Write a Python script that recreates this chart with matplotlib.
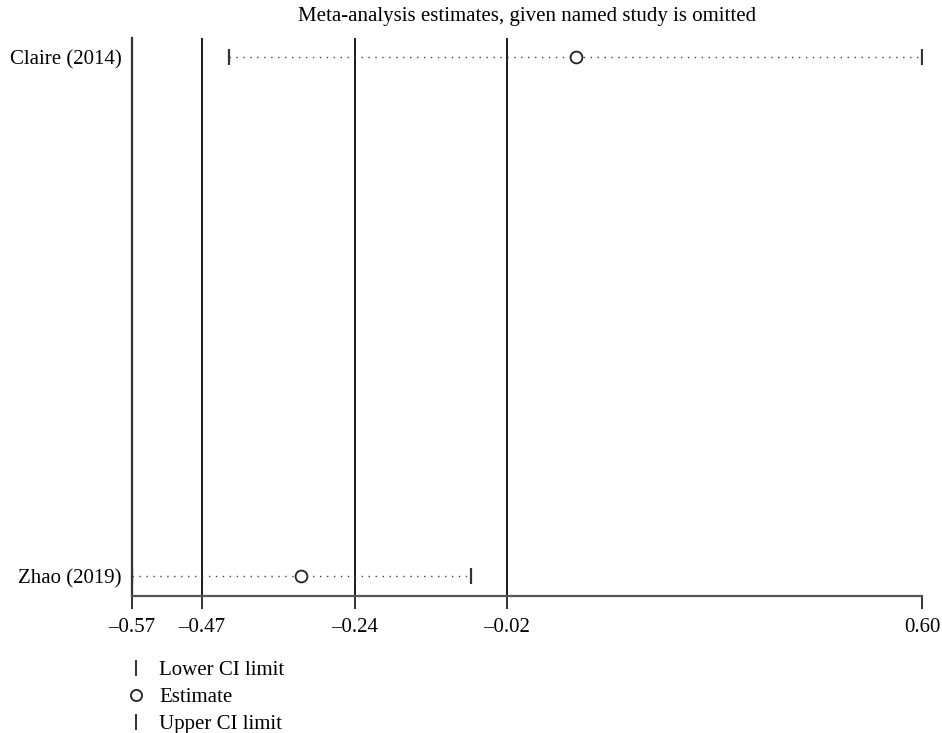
import matplotlib.pyplot as plt
from matplotlib.lines import Line2D

plt.rcParams['font.family'] = ['Liberation Serif', 'DejaVu Serif']

# study omitted -> pooled estimate and CI
studies = ['Claire (2014)', 'Zhao (2019)']
estimate = [0.087, -0.319]
lower_ci = [-0.426, -0.570]
upper_ci = [0.600, -0.068]

# overall estimate and CI (reference lines)
overall = [-0.466, -0.2395, -0.015]

tick_vals = [-0.570, -0.466, -0.2395, -0.015, 0.600]
tick_labels = ['\u20130.57', '\u20130.47', '\u20130.24', '\u20130.02', '0.60']

fig = plt.figure(figsize=(9.42, 7.33), dpi=100)
ax = fig.add_axes([0.1398, 0.1869, 0.8393, 0.7613])

ypos = list(range(1, len(studies) + 1))

# reference lines
for v in overall:
    ax.axvline(v, color='#1a1a1a', lw=1.4, zorder=1)

# dotted CI lines
for y, lo, hi in zip(ypos, lower_ci, upper_ci):
    ax.plot([lo, hi], [y, y], color='#444444', lw=1.0, linestyle=(0, (1, 4)), zorder=2)

ax.plot(lower_ci, ypos, linestyle='none', marker='|', markersize=12,
        markeredgewidth=1.6, color='#333333', zorder=3)
ax.plot(upper_ci, ypos, linestyle='none', marker='|', markersize=12,
        markeredgewidth=1.6, color='#333333', zorder=3)
ax.plot(estimate, ypos, linestyle='none', marker='o', markersize=8.5,
        markerfacecolor='white', markeredgecolor='#222222', markeredgewidth=1.3, zorder=4)

ax.set_xlim(-0.570, 0.600)
ax.set_ylim(2.0385, 0.9634)
ax.set_xticks(tick_vals)
ax.set_xticklabels(tick_labels, fontsize=15)
ax.set_yticks(ypos)
ax.set_yticklabels(studies, fontsize=15)
ax.tick_params(axis='y', length=0, pad=7)
ax.tick_params(axis='x', length=9, width=1.4, color='#333333', pad=7)

for s in ['top', 'right']:
    ax.spines[s].set_visible(False)
ax.spines['left'].set_color('#333333')
ax.spines['left'].set_linewidth(1.6)
ax.spines['bottom'].set_color('#555555')
ax.spines['bottom'].set_linewidth(1.6)

ax.set_title('Meta-analysis estimates, given named study is omitted', fontsize=15, pad=12)

handles = [
    Line2D([], [], linestyle='none', marker='|', markersize=11, markeredgewidth=1.4, color='#333333'),
    Line2D([], [], linestyle='none', marker='o', markersize=8, markerfacecolor='white',
           markeredgecolor='#222222', markeredgewidth=1.3),
    Line2D([], [], linestyle='none', marker='|', markersize=11, markeredgewidth=1.4, color='#333333'),
]
fig.legend(handles, ['Lower CI limit', 'Estimate', 'Upper CI limit'],
           loc='upper left', bbox_to_anchor=(0.1335, 0.0986), frameon=False,
           fontsize=15, labelspacing=0.35, handlelength=1.0, handletextpad=0.6,
           borderpad=0, borderaxespad=0)

fig.savefig('out.png', dpi=100)
